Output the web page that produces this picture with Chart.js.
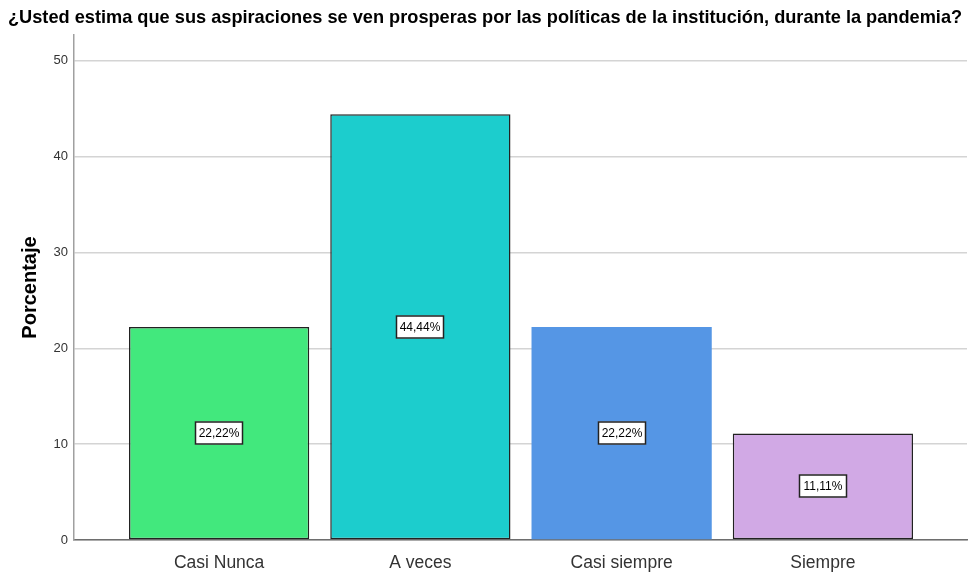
<!DOCTYPE html>
<html>
<head>
<meta charset="utf-8">
<script src="https://cdn.jsdelivr.net/npm/chart.js@4.4.0/dist/chart.umd.min.js"></script>
<style>
  html, body { margin: 0; padding: 0; background: #fff; }
  canvas { display: block; }
</style>
</head>
<body>
<canvas id="porcentajeBar" width="969" height="575"></canvas>
<script>
// categories on the x axis
const categorias = ['Casi Nunca', 'A veces', 'Casi siempre', 'Siempre'];

// percentage per category
const porcentajes = [22.22, 44.44, 22.22, 11.11];

// text shown in the little boxes
const etiquetas = ['22,22%', '44,44%', '22,22%', '11,11%'];

// y axis ticks
const yTicks = [0, 10, 20, 30, 40, 50];

const barColors = ['#42e87d', '#1ccdcd', '#5596e5', '#d1a9e5'];
const borderWidths = [1.5, 1.5, 0, 1.5];

const fontFamily = 'Arial, "Liberation Sans", sans-serif';

// draws the white value box in the middle of each bar
const boxLabels = {
  id: 'boxLabels',
  afterDatasetsDraw(chart) {
    const ctx = chart.ctx;
    const meta = chart.getDatasetMeta(0);
    ctx.save();
    ctx.font = '12px ' + fontFamily;
    ctx.textAlign = 'center';
    ctx.textBaseline = 'middle';
    meta.data.forEach((bar, i) => {
      const cx = Math.round(bar.x);
      const cy = Math.round((bar.y + bar.base) / 2);
      const w = 48, h = 23;
      ctx.fillStyle = '#ffffff';
      ctx.fillRect(cx - w / 2, cy - h / 2, w, h);
      ctx.strokeStyle = '#222222';
      ctx.lineWidth = 1.5;
      ctx.strokeRect(cx - w / 2 + 0.5, cy - h / 2 + 0.5, w - 1, h - 1);
      ctx.fillStyle = '#000000';
      ctx.fillText(etiquetas[i], cx, cy + 1);
    });
    ctx.restore();
  }
};

const ctx = document.getElementById('porcentajeBar');

new Chart(ctx, {
  type: 'bar',
  data: {
    datasets: [{
      data: porcentajes.map((v, i) => ({x: i, y: v})),
      backgroundColor: barColors,
      borderColor: '#222222',
      borderWidth: borderWidths,
      borderSkipped: false,
      barPercentage: 180 / 201,
      categoryPercentage: 1
    }]
  },
  options: {
    responsive: false,
    animation: false,
    layout: {padding: {left: 8, right: 2, top: 0, bottom: 0}},
    plugins: {
      legend: {display: false},
      tooltip: {enabled: false},
      title: {
        display: true,
        align: 'start',
        text: '¿Usted estima que sus aspiraciones se ven prosperas por las políticas de la institución, durante la pandemia?',
        color: '#000000',
        font: {family: fontFamily, size: 18.2, weight: 'bold'},
        padding: {top: 7, bottom: 6.2}
      }
    },
    scales: {
      x: {
        type: 'linear',
        offset: false,
        min: -0.721,
        max: 3.716,
        afterBuildTicks: (scale) => { scale.ticks = categorias.map((c, i) => ({value: i})); },
        afterFit: (scale) => { scale.height = 35; },
        grid: {display: false, offset: false},
        border: {display: true, color: '#6e6e6e', width: 1.5},
        ticks: {
          callback: (v) => categorias[v],
          color: '#333333',
          font: {family: fontFamily, size: 17.5},
          padding: 5,
          maxRotation: 0
        }
      },
      y: {
        min: 0,
        max: 52.7,
        afterBuildTicks: (scale) => { scale.ticks = yTicks.map(v => ({value: v})); },
        afterFit: (scale) => { scale.width = 66; },
        grid: {color: '#d4d4d4', lineWidth: 1.5, drawTicks: false},
        border: {display: true, color: '#a0a0a0', width: 1.5},
        ticks: {
          color: '#333333',
          font: {family: fontFamily, size: 13},
          padding: 6
        },
        title: {
          display: true,
          text: 'Porcentaje',
          color: '#000000',
          font: {family: fontFamily, size: 20, weight: 'bold'},
          padding: {top: 10, bottom: 0}
        }
      }
    }
  },
  plugins: [boxLabels]
});
</script>
</body>
</html>
